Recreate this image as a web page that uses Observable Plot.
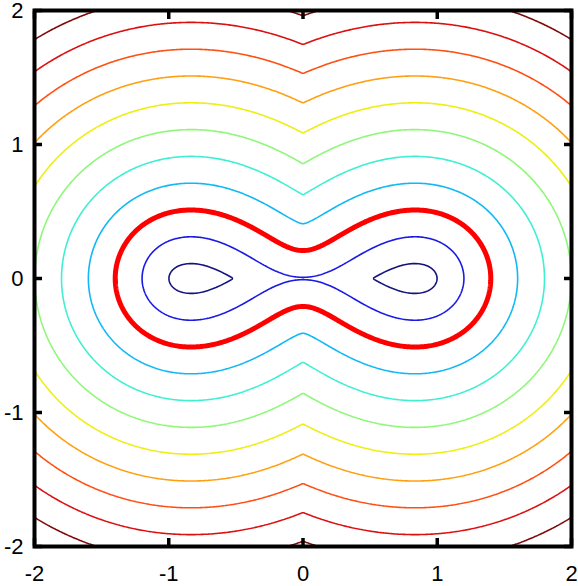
<!DOCTYPE html>
<html><head><meta charset="utf-8">
<script src="https://cdn.jsdelivr.net/npm/d3@7"></script>
<script src="https://cdn.jsdelivr.net/npm/@observablehq/plot@0.6"></script>
<style>html,body{margin:0;padding:0;background:#fff} svg{display:block}</style>
</head><body><div id="chart"></div>
<script>
// Tick values
const xTicks = [-2, -1, 0, 1, 2];
const yTicks = [-2, -1, 0, 1, 2];
// Contour levels: signed offset from the thick red oval (inside negative)
const levels = [-0.4, -0.2, 0, 0.2, 0.4, 0.6, 0.8, 1.0, 1.2, 1.4, 1.6];
const levelColors = ["#14147f", "#1a1ae6", "#ff0000", "#12b8f5", "#40efd2", "#8ff77a",
                     "#eeee12", "#ffa012", "#ff5014", "#dc1010", "#7f0808"];
const levelWidths = [1.6, 1.6, 5, 1.6, 1.6, 1.6, 1.6, 1.6, 1.6, 1.6, 1.6];
// Base oval (thick red): Cassini oval
const ovalB = 1.0;    // sqrt of focal-distance product
const ovalC = 0.978;  // focus position

const b4 = ovalB ** 4, c2 = ovalC * ovalC, c4 = c2 * c2;
// quarter arc of the oval (polar form)
const M = 600;
const ax = [], ay = [];
for (let k = 0; k <= M; k++) {
  const t = (Math.PI / 2) * k / M;
  const s2 = Math.sin(2 * t), co2 = Math.cos(2 * t);
  const r = Math.sqrt(c2 * co2 + Math.sqrt(b4 - c4 * s2 * s2));
  ax.push(r * Math.cos(t)); ay.push(r * Math.sin(t));
}
function signedDist(px, py) {
  let best = Infinity;
  for (let k = 0; k < M; k++) {
    const x0 = ax[k], y0 = ay[k], ex = ax[k + 1] - x0, ey = ay[k + 1] - y0;
    let t = ((px - x0) * ex + (py - y0) * ey) / (ex * ex + ey * ey);
    t = t < 0 ? 0 : t > 1 ? 1 : t;
    const dx = px - x0 - t * ex, dy = py - y0 - t * ey;
    const d2 = dx * dx + dy * dy;
    if (d2 < best) best = d2;
  }
  const r2 = px * px + py * py;
  const F = r2 * r2 - 2 * c2 * (px * px - py * py) - (b4 - c4);
  return F < 0 ? -Math.sqrt(best) : Math.sqrt(best);
}
const N = 420, ext = 2.05, step = 2 * ext / N;
const grid = new Array(N * N);
for (let j = 0; j < N / 2; j++) {
  const y = Math.abs(-ext + (j + 0.5) * step);
  for (let i = 0; i < N / 2; i++) {
    const x = Math.abs(-ext + (i + 0.5) * step);
    const v = signedDist(x, y);
    grid[j * N + i] = v; grid[j * N + (N - 1 - i)] = v;
    grid[(N - 1 - j) * N + i] = v; grid[(N - 1 - j) * N + (N - 1 - i)] = v;
  }
}
const fmt = d => (d < 0 ? "-" : "") + Math.abs(d);
const font = "'Liberation Sans', Arial, Helvetica, sans-serif";

const marks = levels.map((t, i) => Plot.contour(grid, {
  value: Plot.identity, width: N, height: N,
  x1: -ext, x2: ext, y1: -ext, y2: ext,
  thresholds: [t], fill: "none", stroke: levelColors[i], strokeWidth: levelWidths[i],
  clip: true
}));

const chart = Plot.plot({
  width: 578, height: 586,
  marginLeft: 34, marginRight: 7, marginTop: 10, marginBottom: 40,
  style: {fontFamily: font, fontSize: "22px", background: "#fff", color: "#000"},
  x: {domain: [-2, 2], axis: null},
  y: {domain: [-2, 2], axis: null},
  marks: [
    ...marks,
    Plot.axisX(xTicks, {anchor: "bottom", tickSize: -8, tickFormat: () => "", strokeWidth: 3.5, label: null}),
    Plot.axisX(xTicks, {anchor: "top", tickSize: -8, tickFormat: () => "", strokeWidth: 3.5, label: null}),
    Plot.axisY(yTicks, {anchor: "left", tickSize: -8, tickFormat: () => "", strokeWidth: 3.5, label: null}),
    Plot.axisY(yTicks, {anchor: "right", tickSize: -8, tickFormat: () => "", strokeWidth: 3.5, label: null}),
    Plot.axisX(xTicks, {anchor: "bottom", tickSize: 0, tickPadding: 19, tickFormat: fmt, fontSize: 22, label: null}),
    Plot.axisY(yTicks, {anchor: "left", tickSize: 0, tickPadding: 11, tickFormat: fmt, fontSize: 22, label: null}),
    Plot.frame({stroke: "#000", strokeWidth: 4})
  ]
});
document.getElementById("chart").appendChild(chart);
</script>
</body></html>
